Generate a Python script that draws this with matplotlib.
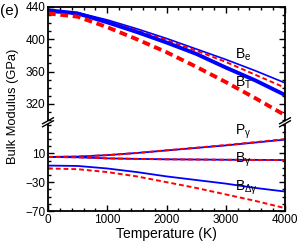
import numpy as np
import matplotlib
matplotlib.use("Agg")
import matplotlib.pyplot as plt
from matplotlib.lines import Line2D
from matplotlib.ticker import MultipleLocator

plt.rcParams['font.family'] = ['Liberation Sans', 'DejaVu Sans']
plt.rcParams['mathtext.fontset'] = 'custom'
plt.rcParams['mathtext.rm'] = 'Liberation Sans'
plt.rcParams['mathtext.it'] = 'Liberation Sans:italic'

T = [0, 500, 1000, 1500, 2000, 2500, 3000, 3500, 4000]

# upper panel
Be_blue = [436, 433, 424, 413, 401, 388, 375, 361, 346]
Be_red = [434, 431, 422, 411, 399, 386, 372, 356, 340]
BT_blue = [436, 432, 421, 409, 396, 382, 365, 349, 331]
BT_red = [432, 428, 415, 400, 384, 366, 347, 327, 306]

# lower panel
Pg_blue = [5, 5.5, 7.5, 10.5, 14, 17.5, 21, 25, 29]
Pg_red = [5, 5.5, 7.5, 10.5, 14.2, 17.8, 21.5, 25.5, 29.8]
Bg_blue = [5, 4.5, 3, 2.3, 1.7, 1.4, 1.1, 0.9, 0.7]
Bg_red = [5, 4.5, 3, 2.3, 1.7, 1.4, 1.1, 0.9, 0.7]
Bdg_blue = [-7, -7.5, -11, -16, -22, -27, -32, -38, -43]
Bdg_red = [-11, -12, -16, -22, -30, -38, -47, -56, -66]

fig = plt.figure(figsize=(3, 2.5), dpi=100)
ax1 = fig.add_axes([0.16, 0.52, 0.79, 0.452])
ax2 = fig.add_axes([0.16, 0.156, 0.79, 0.346])

blue = '#0000ff'
red = '#ff0000'

ax1.plot(T, Be_blue, color=blue, lw=1.2)
ax1.plot(T, Be_red, color=red, lw=1.4, ls=(0, (2.5, 1.5)))
ax1.plot(T, BT_blue, color=blue, lw=2.8)
ax1.plot(T, BT_red, color=red, lw=2.8, ls=(0, (2, 1.2)))

ax2.plot(T, Pg_blue, color=blue, lw=1.3)
ax2.plot(T, Pg_red, color=red, lw=1.4, ls=(0, (2.5, 1.5)))
ax2.plot(T, Bg_blue, color=blue, lw=1.3)
ax2.plot(T, Bg_red, color=red, lw=1.4, ls=(0, (2.5, 1.5)))
ax2.plot(T, Bdg_blue, color=blue, lw=1.3)
ax2.plot(T, Bdg_red, color=red, lw=1.4, ls=(0, (2.5, 1.5)))

ax1.set_xlim(0, 4000)
ax2.set_xlim(0, 4000)
ax1.set_ylim(300, 440)
ax2.set_ylim(-70, 50)

ax1.set_yticks([320, 360, 400, 440])
ax1.yaxis.set_minor_locator(MultipleLocator(10))
ax2.set_yticks([-70, -30, 10])
ax2.yaxis.set_minor_locator(MultipleLocator(10))
for ax in (ax1, ax2):
    ax.set_xticks([0, 1000, 2000, 3000, 4000])
    ax.xaxis.set_minor_locator(MultipleLocator(200))
    ax.tick_params(which='both', direction='in', top=True, right=True,
                   width=1, labelsize=8.5, pad=2)
    ax.tick_params(which='major', length=4)
    ax.tick_params(which='minor', length=2)
    for s in ax.spines.values():
        s.set_linewidth(1.3)

ax1.spines['bottom'].set_visible(False)
ax1.tick_params(which='both', bottom=False, labelbottom=False)
ax2.spines['top'].set_visible(False)
ax2.tick_params(which='both', top=False)

ax1.text(3150, 381, r'B$_\mathrm{e}$', fontsize=10, va='center')
ax1.text(3150, 346, r'B$_\mathrm{T}$', fontsize=10, va='center')
ax2.text(3150, 40, r'P$_\mathrm{\gamma}$', fontsize=10, va='center')
ax2.text(3150, 1, r'B$_\mathrm{\gamma}$', fontsize=10, va='center')
ax2.text(3150, -38, r'B$_{\mathrm{\Delta\gamma}}$', fontsize=10, va='center')

ax2.set_xlabel('Temperature (K)', fontsize=10, labelpad=1)
fig.text(0.045, 0.575, 'Bulk Modulus (GPa)', rotation=90, fontsize=9.3,
         ha='center', va='center')
fig.text(0.0, 0.985, '(e)', fontsize=11, ha='left', va='top')

# break marks
for xf in (0.16, 0.95):
    for dy in (-0.006, 0.006):
        yc = 0.511 + dy
        fig.add_artist(Line2D([xf - 0.018, xf + 0.018], [yc - 0.012, yc + 0.012],
                              color='black', lw=1.0))

fig.savefig('out.png', dpi=100)
